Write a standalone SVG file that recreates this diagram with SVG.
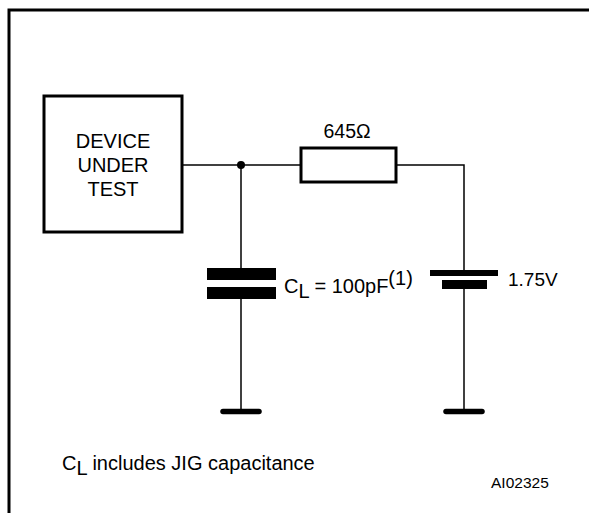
<svg xmlns="http://www.w3.org/2000/svg" width="589" height="513" viewBox="0 0 589 513">
<style>
text{font-family:"Liberation Sans",Arial,sans-serif;fill:#000}
.w{fill:none;stroke:#000;stroke-width:1.5}
.plate{fill:#000}
.gnd{stroke:#000;stroke-width:5.5;stroke-linecap:round}
</style>
<rect width="589" height="513" fill="#fff"/>
<path d="M9,513 V10 H589" fill="none" stroke="#000" stroke-width="3"/>
<g id="connectors">
<path class="w" d="M182,165 H301"/>
<path class="w" d="M396,165 H464 V270"/>
<path class="w" d="M241,165 V268"/>
<path class="w" d="M241,299 V411"/>
<path class="w" d="M464,289 V411"/>
<circle cx="241" cy="165" r="4" fill="#000"/>
</g>
<g id="dut">
<rect x="44" y="96" width="138" height="136" fill="#fff" stroke="#000" stroke-width="3"/>
<text x="113" y="148" font-size="20" text-anchor="middle">DEVICE</text>
<text x="113" y="172" font-size="20" text-anchor="middle">UNDER</text>
<text x="113" y="196" font-size="20" text-anchor="middle">TEST</text>
</g>
<g id="resistor">
<rect x="301" y="148" width="95" height="34" fill="#fff" stroke="#000" stroke-width="3"/>
<text x="347" y="138" font-size="19.5" text-anchor="middle">645Ω</text>
</g>
<g id="capacitor">
<rect class="plate" x="207" y="268" width="69" height="12"/>
<rect class="plate" x="207" y="287" width="69" height="12"/>
<text x="284" y="293" font-size="20">C<tspan dy="5">L</tspan><tspan dy="-5"> = 100pF</tspan><tspan dy="-8">(1)</tspan></text>
</g>
<g id="battery">
<rect class="plate" x="430" y="270" width="68" height="6"/>
<rect class="plate" x="442" y="280" width="45" height="9"/>
<text x="508" y="286" font-size="19">1.75V</text>
</g>
<g id="ground1"><line class="gnd" x1="223" y1="411.5" x2="259" y2="411.5"/></g>
<g id="ground2"><line class="gnd" x1="446" y1="411.5" x2="482" y2="411.5"/></g>
<g id="note">
<text x="62" y="470" font-size="20">C<tspan dy="5">L</tspan><tspan dy="-5"> includes JIG capacitance</tspan></text>
</g>
<text x="491" y="488" font-size="15.5">AI02325</text>
</svg>
